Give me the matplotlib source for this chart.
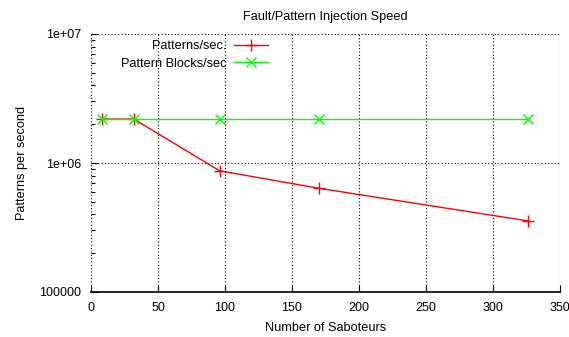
import matplotlib
matplotlib.use("Agg")
import matplotlib.pyplot as plt
from matplotlib.ticker import FixedLocator, FixedFormatter, LogLocator, NullFormatter

plt.rcParams['font.family'] = ['Liberation Sans', 'DejaVu Sans']

saboteurs = [8, 32, 96, 170, 326]
patterns_per_sec = [2.19e6, 2.19e6, 8.7e5, 6.37e5, 3.56e5]
blocks_per_sec = [2.19e6, 2.19e6, 2.19e6, 2.19e6, 2.19e6]
x_ticks = [0, 50, 100, 150, 200, 250, 300, 350]
y_ticks = [1e5, 1e6, 1e7]
y_tick_labels = ["100000", "1e+06", "1e+07"]

FS = 9.2

fig = plt.figure(figsize=(5.69, 3.37), dpi=100)
ax = fig.add_axes([91/569, 1-292/337, (560-91)/569, (292-34)/337])

ax.plot(saboteurs, patterns_per_sec, color='#ff0000', lw=1, marker='+',
        markersize=8, markeredgewidth=1, label='Patterns/sec.', zorder=3)
ax.plot(saboteurs, blocks_per_sec, color='#00ff00', lw=1, marker='x',
        markersize=7, markeredgewidth=1, label='Pattern Blocks/sec', zorder=4)

ax.set_yscale('log')
ax.set_xlim(0, 350)
ax.set_ylim(1e5, 1e7)
ax.xaxis.set_major_locator(FixedLocator(x_ticks))
ax.yaxis.set_major_locator(FixedLocator(y_ticks))
ax.yaxis.set_major_formatter(FixedFormatter(y_tick_labels))
ax.yaxis.set_minor_locator(LogLocator(base=10, subs=range(2, 10)))
ax.yaxis.set_minor_formatter(NullFormatter())

ax.grid(True, which='major', color='black', linestyle=(0, (1, 2)), lw=0.8)
for s in ['top', 'right', 'left']:
    ax.spines[s].set_visible(False)
ax.spines['bottom'].set_linewidth(1.2)

ax.tick_params(axis='both', which='major', direction='in', length=5, width=0.8,
               labelsize=9, top=False, right=False, colors='black')
ax.tick_params(axis='x', which='major', pad=7)
ax.tick_params(axis='y', which='major', pad=7)
ax.tick_params(axis='y', which='minor', direction='in', length=3, width=0.8,
               right=False)

ax.set_title('Fault/Pattern Injection Speed', fontsize=FS, pad=10)
ax.set_xlabel('Number of Saboteurs', fontsize=FS, labelpad=6)
ax.set_ylabel('Patterns per second', fontsize=FS, labelpad=8)

ax.legend(loc='upper right', bbox_to_anchor=((268-91)/469, (292-40)/258),
          frameon=False, markerfirst=False, fontsize=FS, handlelength=2.7,
          handletextpad=0.55, labelspacing=0.45, borderaxespad=0, borderpad=0)

fig.savefig('out.png', dpi=100)
